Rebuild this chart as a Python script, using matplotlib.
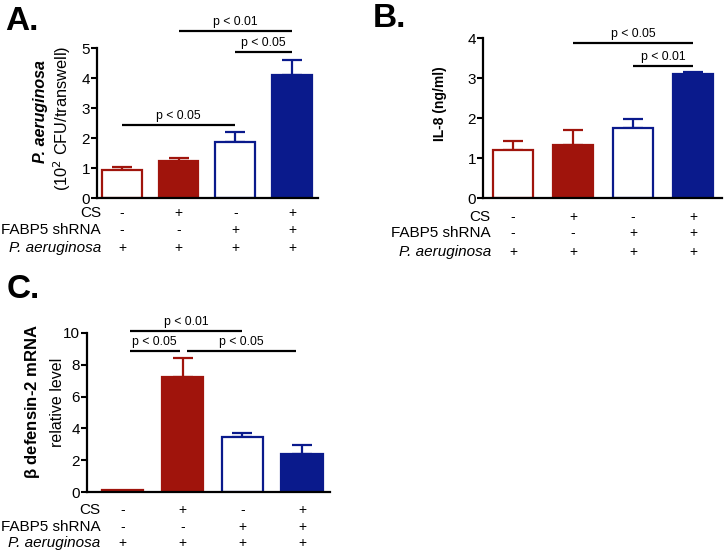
import numpy as np
import matplotlib
matplotlib.use("Agg")
import matplotlib.pyplot as plt

plt.rcParams["font.family"] = ["Liberation Sans", "DejaVu Sans"]

RED = "#a0140c"
BLUE = "#0a1a8c"
W, H = 727, 558

# bar styles per group: (edge colour, filled?)
STYLES = [(RED, False), (RED, True), (BLUE, False), (BLUE, True)]

ROW_NAMES = ["CS", "FABP5 shRNA", "P. aeruginosa"]
ROW_SIGNS = [["-", "+", "-", "+"],
             ["-", "-", "+", "+"],
             ["+", "+", "+", "+"]]

# panel A: P. aeruginosa CFU
a_mean = [0.92, 1.22, 1.87, 4.10]
a_err = [0.12, 0.13, 0.32, 0.50]
a_sig = [(1, 3, 5.58, "p < 0.01"), (2, 3, 4.87, "p < 0.05"), (0, 2, 2.43, "p < 0.05")]

# panel B: IL-8
b_mean = [1.19, 1.33, 1.76, 3.10]
b_err = [0.23, 0.38, 0.21, 0.04]
b_sig = [(1, 3, 3.88, "p < 0.05"), (2, 3, 3.31, "p < 0.01")]

# panel C: beta defensin-2 mRNA
c_mean = [0.15, 7.25, 3.48, 2.40]
c_err = [0.0, 1.20, 0.25, 0.55]
c_sig = [(0.12, 2.0, 10.15, "p < 0.01"), (0.12, 0.95, 8.87, "p < 0.05"),
         (1.08, 2.9, 8.87, "p < 0.05")]


def px_axes(fig, left, right, y0, ytop):
    return fig.add_axes([left / W, (H - y0) / H, (right - left) / W, (y0 - ytop) / H])


def draw_panel(ax, mean, err, sig, ymax, yticks, xlim, width, row_y):
    x = np.arange(len(mean))
    for i, (col, filled) in enumerate(STYLES):
        ax.bar(x[i], mean[i], width=width, color=col if filled else "white",
               edgecolor=col, linewidth=1.6, zorder=2)
        if err[i] > 0:
            ax.errorbar(x[i], mean[i], yerr=[[0], [err[i]]], color=col,
                        capsize=7, elinewidth=1.6, capthick=1.6, zorder=1)
    for x1, x2, y, txt in sig:
        ax.plot([x1, x2], [y, y], color="black", lw=1.6, clip_on=False,
                solid_capstyle="butt")
        ax.annotate(txt, ((x1 + x2) / 2, y), xytext=(0, 2), textcoords="offset points",
                    ha="center", va="bottom", fontsize=8.8, annotation_clip=False)
    ax.set_xlim(*xlim)
    ax.set_ylim(0, ymax)
    ax.set_yticks(yticks)
    ax.tick_params(axis="y", labelsize=11, width=1.5, length=4, pad=1)
    ax.tick_params(axis="x", bottom=False, labelbottom=False)
    for s in ["top", "right"]:
        ax.spines[s].set_visible(False)
    for s in ["left", "bottom"]:
        ax.spines[s].set_linewidth(1.6)
    tr = ax.get_xaxis_transform()
    for r, name in enumerate(ROW_NAMES):
        style = "italic" if name.startswith("P.") else "normal"
        ax.text(-0.37, row_y[r], name, transform=tr, ha="right", va="center",
                fontsize=11, style=style, clip_on=False)
        for i, s in enumerate(ROW_SIGNS[r]):
            ax.text(x[i], row_y[r], s, transform=tr, ha="center", va="center",
                    fontsize=10, clip_on=False)


fig = plt.figure(figsize=(W / 100, H / 100), dpi=100)

ax_a = px_axes(fig, 97, 318, 198, 48)
draw_panel(ax_a, a_mean, a_err, a_sig, 5, range(0, 6), (-0.44, 3.46), 0.70,
           [-0.10, -0.213, -0.333])
ax_b = px_axes(fig, 483, 722, 198, 38)
draw_panel(ax_b, b_mean, b_err, b_sig, 4, range(0, 5), (-0.5, 3.48), 0.67,
           [-0.119, -0.219, -0.3375])
ax_c = px_axes(fig, 87, 330, 492, 333)
draw_panel(ax_c, c_mean, c_err, c_sig, 10, range(0, 11, 2), (-0.6, 3.47), 0.69,
           [-0.113, -0.22, -0.32])

# y labels
fig.text(40 / W, 1 - 112 / H, "P. aeruginosa", rotation=90, ha="center", va="center",
         fontsize=11.5, weight="bold", style="italic")
fig.text(62 / W, 1 - 118 / H, "(10$^{2}$ CFU/transwell)", rotation=90, ha="center",
         va="center", fontsize=11.8)
fig.text(440 / W, 1 - 104 / H, "IL-8 (ng/ml)", rotation=90, ha="center", va="center",
         fontsize=10, weight="bold")
fig.text(33 / W, 1 - 402 / H, "$\\mathregular{\\beta}$ defensin-2 mRNA", rotation=90,
         ha="center", va="center", fontsize=12, weight="bold")
fig.text(57 / W, 1 - 402 / H, "relative level", rotation=90, ha="center", va="center",
         fontsize=11.5)

# panel letters
for lx, ly, lab in [(5, 30, "A."), (373, 27, "B."), (7, 298, "C.")]:
    fig.text(lx / W, 1 - ly / H, lab, ha="left", va="baseline", fontsize=24,
             weight="bold")

fig.savefig("out.png", dpi=100)
